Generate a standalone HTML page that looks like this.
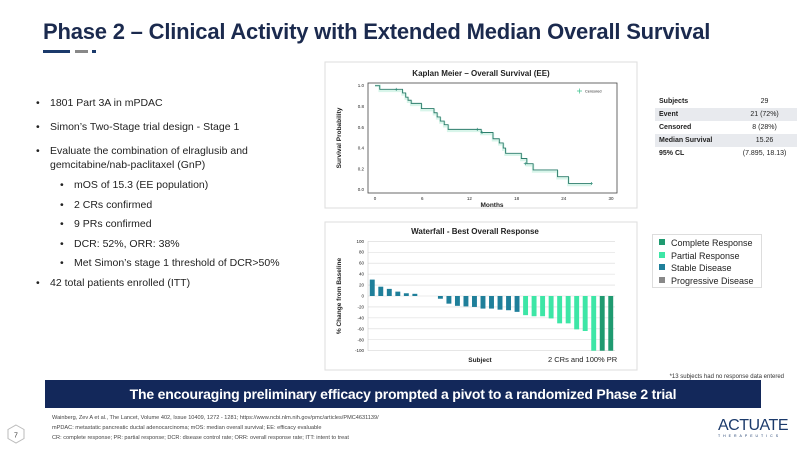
<!DOCTYPE html>
<html><head><meta charset="utf-8"><style>
body{margin:0;width:800px;height:450px;background:#fff;font-family:"Liberation Sans",sans-serif;position:relative;overflow:hidden}
.abs{position:absolute}
.title{left:43px;top:19px;font-size:22px;font-weight:bold;color:#1b2a4e;white-space:nowrap;letter-spacing:-0.2px}
.b{position:absolute;font-size:10.5px;color:#222;white-space:nowrap;line-height:14px}
.b:before{content:"•";position:absolute;left:-14px}
table{border-collapse:collapse;font-size:7px;color:#222}
td{height:13px;padding:0 4px}
tr.s td{background:#e8eaee}
.leg{font-size:9px;color:#222;line-height:12.5px}
.sq{display:inline-block;width:6px;height:6px;margin-right:6px;vertical-align:1px}
.foot{font-size:5.6px;color:#444;line-height:10px;white-space:nowrap}
</style></head><body>
<div class="abs title">Phase 2 – Clinical Activity with Extended Median Overall Survival</div>
<div class="abs" style="left:43px;top:50px;width:27px;height:3px;background:#1b3a6b"></div>
<div class="abs" style="left:75px;top:50px;width:13px;height:3px;background:#888"></div>
<div class="abs" style="left:92px;top:50px;width:4px;height:3px;background:#1b3a6b"></div>

<div>
<div class="b" style="left:50px;top:96px">1801 Part 3A in mPDAC</div>
<div class="b" style="left:50px;top:120px">Simon’s Two-Stage trial design - Stage 1</div>
<div class="b" style="left:50px;top:144px">Evaluate the combination of elraglusib and<br>gemcitabine/nab-paclitaxel (GnP)</div>
<div class="b" style="left:74px;top:178px">mOS of 15.3 (EE population)</div>
<div class="b" style="left:74px;top:198px">2 CRs confirmed</div>
<div class="b" style="left:74px;top:217px">9 PRs confirmed</div>
<div class="b" style="left:74px;top:237px">DCR: 52%, ORR: 38%</div>
<div class="b" style="left:74px;top:256px">Met Simon’s stage 1 threshold of DCR&gt;50%</div>
<div class="b" style="left:50px;top:276px">42 total patients enrolled (ITT)</div>
</div>

<svg class="abs" style="left:0;top:0" width="800" height="450" id="charts"></svg>

<table class="abs" style="left:655px;top:95px;width:142px">
<tr><td><b>Subjects</b></td><td style="text-align:center">29</td></tr>
<tr class="s"><td><b>Event</b></td><td style="text-align:center">21 (72%)</td></tr>
<tr><td><b>Censored</b></td><td style="text-align:center">8 (28%)</td></tr>
<tr class="s"><td><b>Median Survival</b></td><td style="text-align:center">15.26</td></tr>
<tr><td><b>95% CL</b></td><td style="text-align:center">(7.895, 18.13)</td></tr>
</table>

<div class="abs leg" style="left:652px;top:234px;width:110px;height:54px;border:1px solid #ddd;padding:2px 0 0 6px;box-sizing:border-box">
<div><span class="sq" style="background:#1f9a70"></span>Complete Response</div>
<div><span class="sq" style="background:#3de6a6"></span>Partial Response</div>
<div><span class="sq" style="background:#1f7f9a"></span>Stable Disease</div>
<div><span class="sq" style="background:#888"></span>Progressive Disease</div>
</div>

<div class="abs" style="right:16px;top:374px;font-size:6px;color:#333">*13 subjects had no response data entered</div>
<div class="abs" style="left:45px;top:380px;width:716px;height:28px;background:#13285a;color:#fff;font-weight:bold;font-size:14px;line-height:28px;text-align:center;letter-spacing:-0.2px">The encouraging preliminary efficacy prompted a pivot to a randomized Phase 2 trial</div>
<div class="abs foot" style="left:52px;top:413px">Wainberg, Zev A et al., The Lancet, Volume 402, Issue 10409, 1272 - 1281; https://www.ncbi.nlm.nih.gov/pmc/articles/PMC4631139/<br>mPDAC: metastatic pancreatic ductal adenocarcinoma; mOS: median overall survival; EE: efficacy evaluable<br>CR: complete response; PR: partial response; DCR: disease control rate; ORR: overall response rate; ITT: intent to treat</div>
<svg class="abs" style="left:7px;top:424px" width="18" height="20"><polygon points="9,1 17,5.5 17,14.5 9,19 1,14.5 1,5.5" fill="none" stroke="#bbb"/><text x="9" y="13.5" font-size="7" text-anchor="middle" fill="#333" font-family="Liberation Sans">7</text></svg>
<div class="abs" style="left:718px;top:418px;color:#1b3a6b;font-size:16px;letter-spacing:-0.5px;line-height:16px">ACTUATE<div style="font-size:3.5px;letter-spacing:3px;margin-top:0;line-height:5px;color:#1b3a6b">THERAPEUTICS</div></div>

<script>
// Kaplan-Meier data
const kmTimes=[0,0.6,3.5,3.9,4.2,4.6,5.9,7.5,7.9,8.3,8.8,9.3,13.5,15.0,15.8,16.3,16.6,18.6,19.3,20.1,23.2,24.6,27.5];
const kmSurv=[1.0,0.965,0.93,0.89,0.86,0.83,0.78,0.74,0.70,0.66,0.625,0.58,0.55,0.49,0.45,0.40,0.35,0.30,0.25,0.19,0.125,0.06,0.06];
const kmCensor=[2.7,13.0,13.6,19.1,27.5];
const kmCensorSurv=[0.965,0.58,0.55,0.25,0.06];
const kmXTicks=[0,6,12,18,24,30];
const kmYTicks=[0,0.2,0.4,0.6,0.8,1.0];
// Waterfall data
const wfValues=[30,17,13,8,5,4,0,0,-5,-14,-18,-19,-20,-23,-23,-25,-26,-29,-35,-37,-37,-41,-50,-50,-61,-64,-100,-100,-100];
const wfResponse=["SD","SD","SD","SD","SD","SD","SD","SD","SD","SD","SD","SD","SD","SD","SD","SD","SD","SD","PR","PR","PR","PR","PR","PR","PR","PR","PR","CR","CR"];
const wfYTicks=[100,80,60,40,20,0,-20,-40,-60,-80,-100];

const NS="http://www.w3.org/2000/svg";
const svg=document.getElementById('charts');
function mk(tag,attrs,parent){const e=document.createElementNS(NS,tag);for(const k in attrs)e.setAttribute(k,attrs[k]);(parent||svg).appendChild(e);return e;}
function txt(x,y,s,size,attrs){const t=mk('text',Object.assign({x:x,y:y,'font-size':size,'font-family':'Liberation Sans',fill:'#222'},attrs||{}));t.textContent=s;return t;}

// KM chart
let g=mk('g',{});


mk('rect',{x:325,y:62,width:312,height:146,fill:'#fff',stroke:'#ddd'},g);
txt(481,76,'Kaplan Meier – Overall Survival (EE)',8,{'font-weight':'bold','text-anchor':'middle'});
mk('rect',{x:368,y:83,width:249,height:110,fill:'none',stroke:'#444','stroke-width':0.8},g);
const kx=t=>375+t*(611-375)/30, ky=s=>189.7-s*(189.7-85.7);
kmXTicks.forEach(t=>{const e=txt(kx(t),200,String(t),4.5,{'text-anchor':'middle'});});
kmYTicks.forEach(v=>{const e=txt(364,ky(v)+1.5,v.toFixed(1),4.5,{'text-anchor':'end'});});
txt(492,207,'Months',6.5,{'font-weight':'bold','text-anchor':'middle'});
txt(0,0,'Survival Probability',6.5,{'font-weight':'bold','text-anchor':'middle',transform:'translate(341,138) rotate(-90)'});
let d='M'+kx(kmTimes[0])+','+ky(kmSurv[0]);
for(let i=1;i<kmTimes.length;i++){d+=' H'+kx(kmTimes[i])+' V'+ky(kmSurv[i]);}
let band='M'+kx(kmTimes[0])+','+ky(kmSurv[0]);
for(let i=1;i<kmTimes.length;i++){band+=' H'+kx(kmTimes[i])+' V'+(ky(kmSurv[i])+1.5);}
mk('path',{d:band,fill:'none',stroke:'#d8f5ea','stroke-width':2.5},g);
const km=mk('path',{d:d,fill:'none',stroke:'#2e7d6c','stroke-width':0.9},g);

kmCensor.forEach((t,i)=>{const c=mk('path',{d:'M'+(kx(t)-1.5)+','+ky(kmCensorSurv[i])+' h3 M'+kx(t)+','+(ky(kmCensorSurv[i])-1.5)+' v3',stroke:'#2e8a76','stroke-width':0.7},g);});
mk('path',{d:'M577,91 h5 M579.5,88.5 v5',stroke:'#3ec48f','stroke-width':0.7},g);
txt(585,92.5,'Censored',3.8);

// Waterfall
g=mk('g',{});


mk('rect',{x:325,y:222,width:312,height:148,fill:'#fff',stroke:'#ddd'},g);
txt(475,234,'Waterfall - Best Overall Response',8,{'font-weight':'bold','text-anchor':'middle'});
const wy=v=>296-v*(350.7-241.3)/200;
const x0=368,x1=615,slot=(x1-x0)/wfValues.length;
wfYTicks.forEach(v=>{mk('line',{x1:x0,x2:x1,y1:wy(v),y2:wy(v),stroke:'#d8d8d8','stroke-width':0.6},g);const e=txt(364,wy(v)+1.5,String(v),4.5,{'text-anchor':'end'});});
mk('line',{x1:x0,x2:x0,y1:wy(100),y2:wy(-100),stroke:'#ccc','stroke-width':0.6},g);
const col={SD:'#1f7f9a',PR:'#3de6a6',CR:'#1f9a70',PD:'#888'};
wfValues.forEach((v,i)=>{const y=Math.min(wy(v),wy(0)),h=Math.abs(wy(v)-wy(0));const r=mk('rect',{x:x0+i*slot+1.8,y:y,width:slot-3.6,height:h,fill:col[wfResponse[i]]},g);});
txt(480,362,'Subject',6.5,{'font-weight':'bold','text-anchor':'middle'});
txt(548,362,'2 CRs and 100% PR',7.5);
txt(0,0,'% Change from Baseline',6.5,{'font-weight':'bold','text-anchor':'middle',transform:'translate(341,296) rotate(-90)'});
</script>
</body></html>
